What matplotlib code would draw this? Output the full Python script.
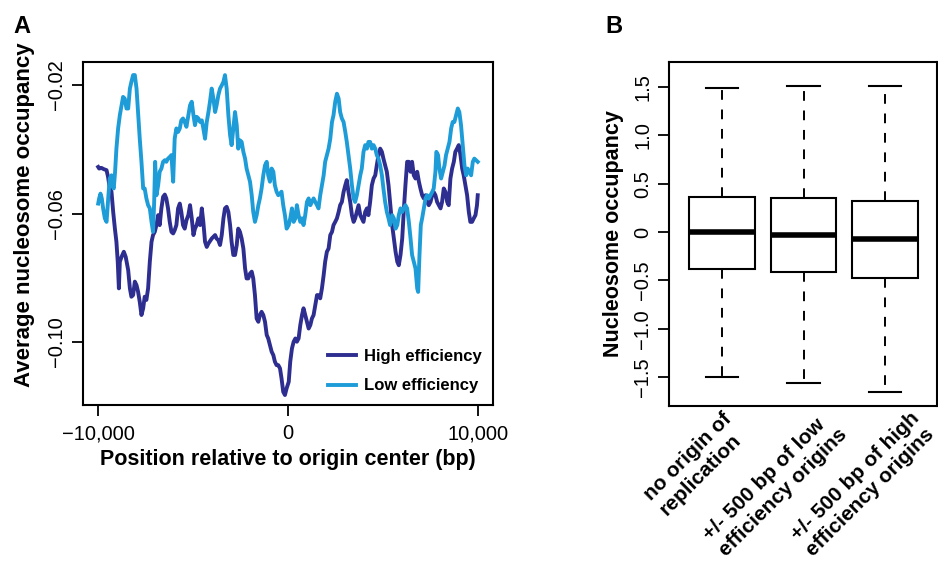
import numpy as np
import matplotlib.pyplot as plt

plt.rcParams['font.family'] = ['Liberation Sans', 'DejaVu Sans']

# average occupancy around origins, high efficiency set
hi_pos = [-10000, -9950, -9830, -9700, -9560, -9480, -9390, -9300, -9210, -9120,
          -9040, -8970, -8910, -8860, -8770, -8650, -8550, -8420, -8330, -8250,
          -8160, -8070, -7980, -7900, -7810, -7720, -7630, -7550, -7460, -7370,
          -7280, -7190, -7110, -7020, -6930, -6840, -6760, -6670, -6580, -6490,
          -6410, -6320, -6230, -6140, -6050, -5970, -5880, -5790, -5700, -5620,
          -5530, -5440, -5350, -5250, -5160, -5070, -4980, -4900, -4810, -4720,
          -4630, -4540, -4460, -4370, -4280, -4190, -4020, -3840, -3760, -3670,
          -3580, -3490, -3400, -3320, -3230, -3140, -3050, -2970, -2880, -2790,
          -2700, -2620, -2530, -2440, -2350, -2260, -2180, -2090, -2000, -1910,
          -1830, -1740, -1650, -1560, -1480, -1390, -1300, -1210, -1120, -1040,
          -950, -860, -770, -690, -600, -510, -420, -340, -250, -160,
          -70, 40, 120, 210, 300, 390, 470, 560, 650, 740,
          820, 910, 1000, 1090, 1180, 1260, 1350, 1440, 1530, 1610,
          1700, 1790, 1880, 1960, 2050, 2140, 2230, 2320, 2400, 2490,
          2580, 2670, 2750, 2840, 2930, 3020, 3100, 3190, 3280, 3370,
          3460, 3540, 3630, 3720, 3810, 3890, 3980, 4070, 4160, 4240,
          4330, 4420, 4510, 4600, 4680, 4770, 4860, 4950, 5030, 5120,
          5210, 5300, 5380, 5490, 5580, 5670, 5760, 5840, 5930, 6020,
          6110, 6190, 6280, 6370, 6460, 6540, 6630, 6720, 6810, 6900,
          6980, 7070, 7160, 7250, 7330, 7420, 7510, 7600, 7680, 7770,
          7860, 7950, 8040, 8120, 8210, 8300, 8390, 8470, 8560, 8650,
          8740, 8820, 8910, 9000, 9090, 9180, 9260, 9350, 9440, 9530,
          9610, 9700, 9790, 9880, 9960, 10000]
hi_occ = [-0.0455, -0.0460, -0.0458, -0.0462, -0.0465, -0.0486, -0.0522, -0.0532, -0.0595, -0.0647,
          -0.0688, -0.0750, -0.0833, -0.0750, -0.0735, -0.0719, -0.0735, -0.0776, -0.0833, -0.0859,
          -0.0854, -0.0812, -0.0823, -0.0843, -0.0875, -0.0916, -0.0895, -0.0859, -0.0869, -0.0833,
          -0.0750, -0.0688, -0.0667, -0.0657, -0.0636, -0.0605, -0.0636, -0.0584, -0.0548, -0.0541,
          -0.0553, -0.0584, -0.0626, -0.0657, -0.0662, -0.0652, -0.0636, -0.0584, -0.0569, -0.0595,
          -0.0636, -0.0647, -0.0621, -0.0605, -0.0574, -0.0615, -0.0667, -0.0647, -0.0636, -0.0615,
          -0.0636, -0.0584, -0.0626, -0.0688, -0.0704, -0.0693, -0.0678, -0.0667, -0.0678, -0.0683,
          -0.0698, -0.0667, -0.0615, -0.0584, -0.0579, -0.0595, -0.0636, -0.0688, -0.0729, -0.0729,
          -0.0698, -0.0647, -0.0657, -0.0678, -0.0709, -0.0771, -0.0802, -0.0802, -0.0787, -0.0781,
          -0.0802, -0.0854, -0.0927, -0.0937, -0.0916, -0.0906, -0.0916, -0.0937, -0.0978, -0.0989,
          -0.1010, -0.1030, -0.1041, -0.1061, -0.1072, -0.1072, -0.1082, -0.1113, -0.1155, -0.1165,
          -0.1144, -0.1124, -0.1061, -0.1020, -0.0999, -0.0989, -0.0999, -0.0989, -0.0947, -0.0916,
          -0.0895, -0.0916, -0.0937, -0.0958, -0.0947, -0.0927, -0.0916, -0.0885, -0.0854, -0.0854,
          -0.0864, -0.0833, -0.0792, -0.0750, -0.0719, -0.0709, -0.0667, -0.0657, -0.0636, -0.0626,
          -0.0615, -0.0595, -0.0574, -0.0564, -0.0533, -0.0512, -0.0496, -0.0533, -0.0564, -0.0605,
          -0.0626, -0.0615, -0.0595, -0.0574, -0.0605, -0.0615, -0.0626, -0.0595, -0.0584, -0.0605,
          -0.0564, -0.0512, -0.0491, -0.0481, -0.0450, -0.0418, -0.0398, -0.0408, -0.0429, -0.0450,
          -0.0470, -0.0512, -0.0564, -0.0636, -0.0678, -0.0719, -0.0750, -0.0761, -0.0729, -0.0678,
          -0.0584, -0.0512, -0.0439, -0.0439, -0.0470, -0.0439, -0.0481, -0.0491, -0.0470, -0.0501,
          -0.0522, -0.0543, -0.0553, -0.0543, -0.0564, -0.0574, -0.0564, -0.0543, -0.0533, -0.0543,
          -0.0564, -0.0574, -0.0584, -0.0564, -0.0522, -0.0533, -0.0564, -0.0574, -0.0491, -0.0460,
          -0.0439, -0.0408, -0.0398, -0.0387, -0.0418, -0.0460, -0.0481, -0.0512, -0.0543, -0.0595,
          -0.0626, -0.0626, -0.0615, -0.0605, -0.0574, -0.0543]

# low efficiency set
lo_pos = [-10000, -9950, -9880, -9810, -9740, -9650, -9560, -9510, -9460, -9390,
          -9300, -9250, -9180, -9110, -9040, -8950, -8860, -8770, -8690, -8600,
          -8510, -8420, -8330, -8250, -8160, -8070, -7980, -7900, -7810, -7720,
          -7630, -7550, -7460, -7370, -7280, -7190, -7110, -7050, -7000, -6930,
          -6840, -6760, -6670, -6580, -6490, -6410, -6320, -6230, -6140, -6050,
          -5970, -5880, -5790, -5700, -5620, -5530, -5440, -5350, -5250, -5160,
          -5070, -4980, -4900, -4810, -4720, -4630, -4540, -4460, -4370, -4280,
          -4190, -4110, -4020, -3930, -3840, -3760, -3670, -3580, -3490, -3400,
          -3320, -3230, -3140, -3050, -2970, -2880, -2790, -2700, -2620, -2530,
          -2440, -2350, -2260, -2180, -2090, -2000, -1910, -1830, -1740, -1650,
          -1560, -1480, -1390, -1300, -1210, -1120, -1040, -950, -860, -770,
          -690, -600, -510, -420, -340, -250, -160, -70, 40, 120,
          210, 300, 390, 470, 560, 650, 740, 820, 910, 1000,
          1090, 1180, 1260, 1350, 1440, 1530, 1610, 1700, 1790, 1880,
          1960, 2050, 2140, 2230, 2320, 2400, 2490, 2580, 2670, 2750,
          2840, 2930, 3020, 3100, 3190, 3280, 3370, 3460, 3540, 3630,
          3720, 3810, 3890, 3980, 4070, 4160, 4240, 4330, 4420, 4510,
          4600, 4680, 4770, 4860, 4950, 5030, 5120, 5210, 5300, 5380,
          5490, 5580, 5670, 5760, 5840, 5930, 6020, 6110, 6190, 6280,
          6370, 6460, 6540, 6630, 6720, 6810, 6860, 6930, 7000, 7070,
          7160, 7250, 7330, 7420, 7510, 7600, 7680, 7770, 7820, 7910,
          7980, 8070, 8160, 8250, 8330, 8420, 8510, 8600, 8680, 8770,
          8860, 8950, 9030, 9120, 9210, 9300, 9390, 9470, 9560, 9650,
          9740, 9820, 9910, 10000]
lo_occ = [-0.0569, -0.0553, -0.0538, -0.0553, -0.0584, -0.0615, -0.0626, -0.0584, -0.0543, -0.0491,
          -0.0481, -0.0512, -0.0522, -0.0470, -0.0398, -0.0335, -0.0294, -0.0263, -0.0237, -0.0242,
          -0.0273, -0.0273, -0.0211, -0.0190, -0.0169, -0.0169, -0.0211, -0.0284, -0.0367, -0.0439,
          -0.0522, -0.0522, -0.0553, -0.0574, -0.0584, -0.0626, -0.0657, -0.0564, -0.0439, -0.0543,
          -0.0512, -0.0470, -0.0460, -0.0439, -0.0434, -0.0439, -0.0429, -0.0424, -0.0418, -0.0501,
          -0.0367, -0.0335, -0.0346, -0.0335, -0.0310, -0.0304, -0.0315, -0.0330, -0.0294, -0.0263,
          -0.0252, -0.0294, -0.0325, -0.0299, -0.0304, -0.0315, -0.0310, -0.0335, -0.0367, -0.0315,
          -0.0284, -0.0252, -0.0211, -0.0242, -0.0284, -0.0263, -0.0232, -0.0211, -0.0201, -0.0190,
          -0.0169, -0.0211, -0.0294, -0.0356, -0.0387, -0.0335, -0.0284, -0.0325, -0.0398, -0.0372,
          -0.0377, -0.0408, -0.0429, -0.0460, -0.0481, -0.0501, -0.0543, -0.0595, -0.0626, -0.0605,
          -0.0574, -0.0553, -0.0522, -0.0481, -0.0450, -0.0439, -0.0481, -0.0501, -0.0460, -0.0470,
          -0.0512, -0.0532, -0.0543, -0.0538, -0.0532, -0.0574, -0.0605, -0.0647, -0.0636, -0.0615,
          -0.0584, -0.0626, -0.0615, -0.0574, -0.0605, -0.0626, -0.0615, -0.0636, -0.0605, -0.0564,
          -0.0553, -0.0574, -0.0564, -0.0553, -0.0564, -0.0574, -0.0584, -0.0543, -0.0512, -0.0481,
          -0.0439, -0.0418, -0.0398, -0.0367, -0.0315, -0.0294, -0.0252, -0.0227, -0.0242, -0.0284,
          -0.0304, -0.0315, -0.0346, -0.0377, -0.0418, -0.0460, -0.0512, -0.0553, -0.0564, -0.0543,
          -0.0512, -0.0481, -0.0460, -0.0408, -0.0387, -0.0398, -0.0377, -0.0377, -0.0398, -0.0387,
          -0.0398, -0.0418, -0.0429, -0.0450, -0.0481, -0.0522, -0.0564, -0.0595, -0.0615, -0.0636,
          -0.0605, -0.0615, -0.0647, -0.0636, -0.0605, -0.0584, -0.0595, -0.0584, -0.0574, -0.0584,
          -0.0626, -0.0678, -0.0729, -0.0750, -0.0771, -0.0833, -0.0844, -0.0729, -0.0636, -0.0615,
          -0.0584, -0.0553, -0.0543, -0.0553, -0.0543, -0.0533, -0.0522, -0.0470, -0.0408, -0.0418,
          -0.0460, -0.0491, -0.0470, -0.0450, -0.0418, -0.0398, -0.0377, -0.0335, -0.0315, -0.0315,
          -0.0294, -0.0273, -0.0284, -0.0325, -0.0387, -0.0450, -0.0481, -0.0460, -0.0470, -0.0481,
          -0.0439, -0.0429, -0.0434, -0.0439]

# box summaries for panel B
groups = ['no origin of\nreplication',
          '+/- 500 bp of low\nefficiency origins',
          '+/- 500 bp of high\nefficiency origins']
box_whislo = [-1.50, -1.565, -1.658]
box_q1 = [-0.386, -0.417, -0.472]
box_med = [0.0, -0.030, -0.072]
box_q3 = [0.365, 0.355, 0.324]
box_whishi = [1.486, 1.513, 1.513]

DARK = '#2d2e8f'
LIGHT = '#1e9cd8'

fig = plt.figure(figsize=(9.38, 5.68), dpi=100)

# ---- A: profile around origins ----
axA = fig.add_axes([0.0885, 0.287, 0.437, 0.604])
axA.plot(hi_pos, hi_occ, color=DARK, lw=2.8, label='High efficiency')
axA.plot(lo_pos, lo_occ, color=LIGHT, lw=2.8, label='Low efficiency')
axA.set_xlim(-10800, 10800)
axA.set_ylim(-0.1196, -0.0128)
axA.set_xticks([-10000, 0, 10000])
axA.set_xticklabels(['\u221210,000', '0', '10,000'])
axA.set_yticks([-0.02, -0.06, -0.10])
axA.set_yticklabels(['\u22120.02', '\u22120.06', '\u22120.10'], rotation=90, va='center')
axA.tick_params(direction='out', length=8, width=1.3, labelsize=14.5, pad=4)
axA.tick_params(axis='x', pad=6)
axA.set_xlabel('Position relative to origin center (bp)', fontsize=15.5,
               fontweight='bold', labelpad=4)
axA.set_ylabel('Average nucleosome occupancy', fontsize=16, fontweight='bold')
axA.yaxis.set_label_coords(-0.117, 0.555)
for s in axA.spines.values():
    s.set_linewidth(1.5)
axA.legend(loc='lower right', bbox_to_anchor=(1.01, -0.01), frameon=False,
           prop={'weight': 'bold', 'size': 12}, handlelength=1.7,
           handletextpad=0.5, labelspacing=0.85)

# ---- B: boxplots ----
axB = fig.add_axes([0.7132, 0.285, 0.286, 0.606])
stats = []
for i in range(len(groups)):
    stats.append({'whislo': box_whislo[i], 'q1': box_q1[i], 'med': box_med[i],
                  'q3': box_q3[i], 'whishi': box_whishi[i], 'fliers': []})
axB.bxp(stats, positions=[1, 2, 3], widths=0.8, capwidths=0.4,
        showfliers=False, patch_artist=True,
        boxprops=dict(facecolor='white', edgecolor='black', linewidth=1.5),
        medianprops=dict(color='black', linewidth=4.0, solid_capstyle='butt'),
        whiskerprops=dict(color='black', linewidth=1.4, linestyle=(0, (5, 5))),
        capprops=dict(color='black', linewidth=1.5))
axB.set_xlim(0.35, 3.64)
axB.set_ylim(-1.80, 1.758)
axB.set_xticks([])
axB.set_yticks([-1.5, -1.0, -0.5, 0, 0.5, 1.0, 1.5])
axB.set_yticklabels(['\u22121.5', '\u22121.0', '\u22120.5', '0', '0.5', '1.0', '1.5'],
                    rotation=90, va='center')
axB.tick_params(direction='out', length=8, width=1.3, labelsize=14.5, pad=4)
axB.set_ylabel('Nucleosome occupancy', fontsize=15.5, fontweight='bold', labelpad=7)
for s in axB.spines.values():
    s.set_linewidth(1.5)

label_x = [1.0, 2.22, 3.3]
for gx, name in zip(label_x, groups):
    axB.text(gx, -0.008, name, transform=axB.get_xaxis_transform(),
             rotation=45, rotation_mode='anchor', ha='right', va='top',
             multialignment='left', fontsize=15, fontweight='bold')

fig.text(0.014, 0.974, 'A', fontsize=17, fontweight='bold', ha='left', va='top')
fig.text(0.645, 0.974, 'B', fontsize=17, fontweight='bold', ha='left', va='top')

fig.savefig('out.png', dpi=100)
